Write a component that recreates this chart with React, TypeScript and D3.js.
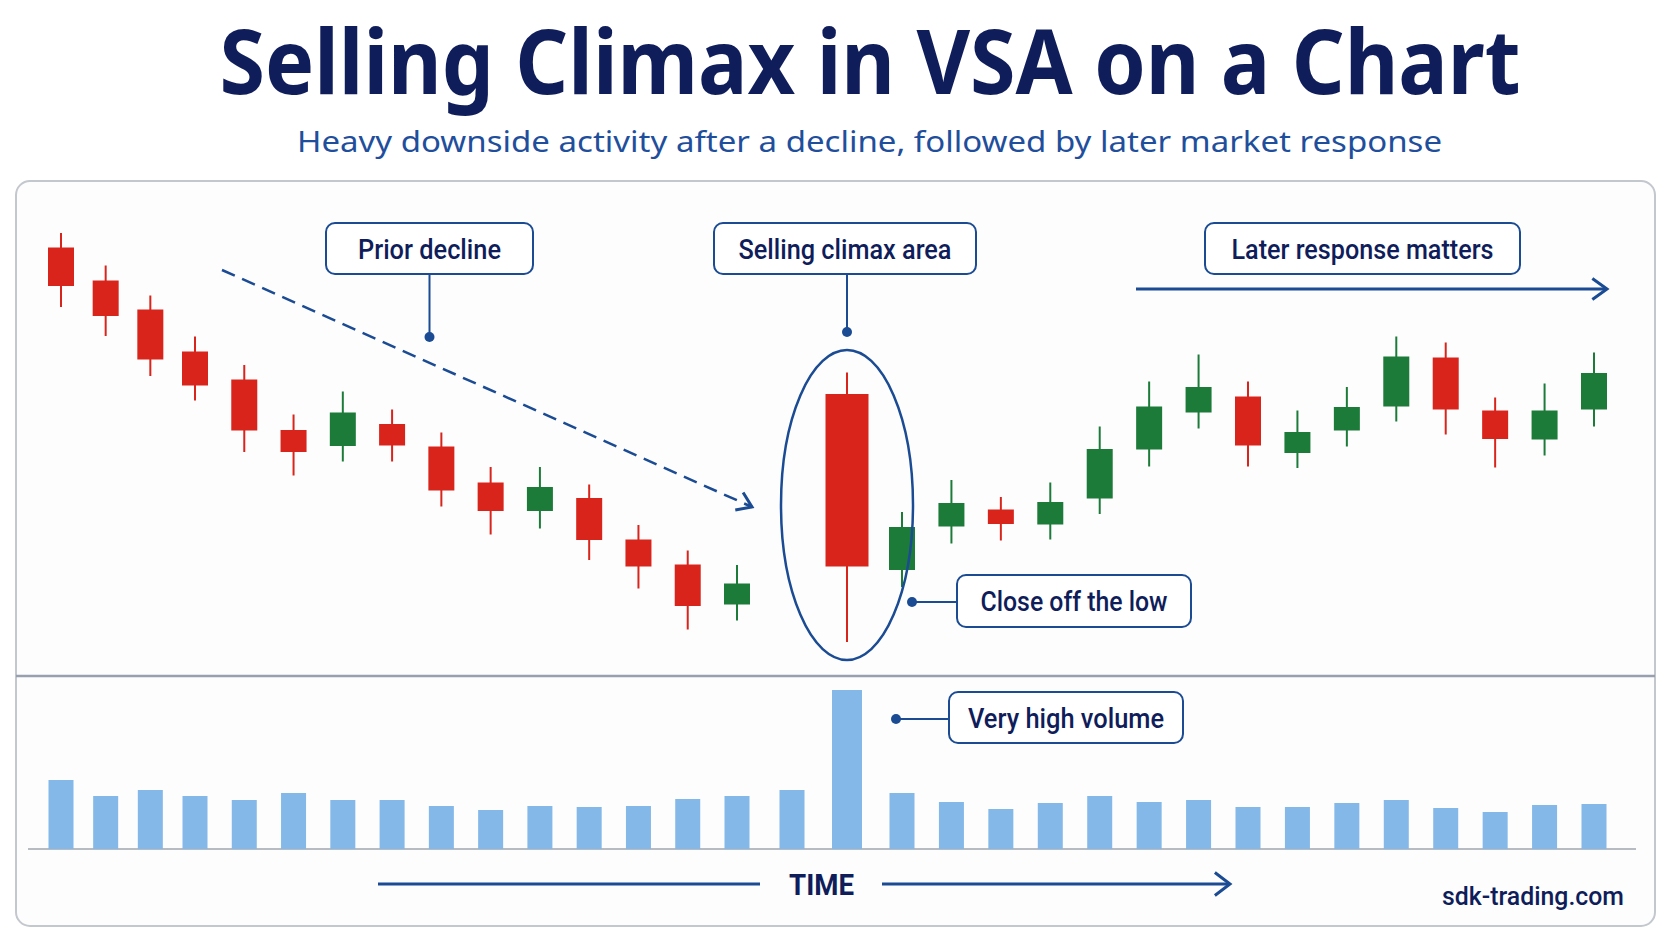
import * as d3 from 'd3';

// --- chart data (price units are arbitrary) ---
const slots = d3.range(32);
const climaxIdx = 16;

const opens = [90.5, 83.9, 78.1, 69.7, 64.1, 54.0, 50.8, 55.2, 50.7, 43.5, 37.8, 40.4, 32.1, 27.1, 19.1, null, 61.2, 26.0, 34.7, 38.1, 35.1, 40.3, 50.1, 57.5, 60.7, 49.4, 53.9, 58.7, 68.5, 57.9, 52.1, 58.1];
const highs = [93.4, 86.9, 80.9, 72.7, 67.0, 57.1, 61.7, 58.1, 53.5, 46.6, 46.6, 43.1, 35.0, 29.9, 27.0, null, 65.5, 37.6, 44.0, 40.6, 43.5, 54.7, 63.7, 69.1, 63.7, 57.9, 62.6, 72.7, 71.5, 60.5, 63.3, 69.5];
const lows = [78.6, 72.8, 64.8, 59.9, 49.6, 44.9, 47.7, 47.7, 38.7, 33.1, 34.3, 28.0, 22.3, 14.1, 15.9, null, 11.6, 22.6, 31.3, 31.9, 32.1, 37.2, 46.7, 54.3, 46.7, 46.4, 50.7, 55.7, 53.1, 46.5, 48.9, 54.7];
const closes = [82.8, 76.8, 68.1, 62.9, 53.9, 49.6, 57.5, 50.9, 41.9, 37.8, 42.6, 32.0, 26.7, 18.8, 23.3, null, 26.7, 34.6, 39.4, 35.2, 39.6, 50.2, 58.7, 62.6, 50.9, 53.6, 58.6, 68.7, 58.1, 52.2, 57.9, 65.4];
const volumes = [69, 53, 59, 53, 49, 56, 49, 49, 43, 39, 43, 42, 43, 50, 53, 59, 159, 56, 47, 40, 46, 53, 47, 49, 42, 42, 46, 49, 41, 37, 44, 45];

const title = 'Selling Climax in VSA on a Chart';
const subtitle = 'Heavy downside activity after a decline, followed by later market response';
const labels = ['Prior decline', 'Selling climax area', 'Later response matters', 'Close off the low', 'Very high volume'];

const W = 1672;
const H = 941;
const NAVY = '#0f1d5a';
const LINE = '#1b4b93';
const RED = '#d9241c';
const GREEN = '#1c7b39';
const VOL = '#84b8e8';

// slot -> x (spacing is a bit tighter early on)
const x = d3.scaleLinear().domain([0, 3, 14, 17, 31]).range([61, 195, 737, 902, 1594]);
const y = d3.scaleLinear().domain([0, 100]).range([700, 200]);
const yVol = d3.scaleLinear().domain([0, 160]).range([849, 689]);

function chevron(tx: number, ty: number, angle: number, len = 17, spread = 0.6) {
  const a1 = angle + Math.PI - spread;
  const a2 = angle + Math.PI + spread;
  const p = d3.path();
  p.moveTo(tx + len * Math.cos(a1), ty + len * Math.sin(a1));
  p.lineTo(tx, ty);
  p.lineTo(tx + len * Math.cos(a2), ty + len * Math.sin(a2));
  return p.toString();
}

function Callout({ bx, by, bw, bh, text, tw }: { bx: number; by: number; bw: number; bh: number; text: string; tw: number }) {
  return (
    <g>
      <rect x={bx} y={by} width={bw} height={bh} rx={9} fill="#fff" stroke={LINE} strokeWidth={2} />
      <text
        x={bx + bw / 2}
        y={by + bh / 2 + 10}
        textAnchor="middle"
        fontFamily="Roboto, 'Noto Sans', sans-serif"
        fontWeight={500}
        fontSize={28}
        fill={NAVY}
        textLength={tw}
        lengthAdjust="spacingAndGlyphs"
      >
        {text}
      </text>
    </g>
  );
}

export default function App() {
  const climaxX = x(climaxIdx);
  const dashAngle = Math.atan2(507 - 270, 752 - 222);

  return (
    <svg width={W} height={H} style={{ position: 'absolute', left: 0, top: 0, background: '#fff' }}>
      {/* Title */}
      <text x={870} y={94} textAnchor="middle" fontFamily="'Noto Sans', 'Open Sans', sans-serif" fontWeight={700}
        fontSize={89} fill={NAVY} textLength={1301} lengthAdjust="spacingAndGlyphs">{title}</text>
      <text x={869.5} y={152} textAnchor="middle" fontFamily="'Noto Sans', 'Open Sans', sans-serif" fontWeight={400}
        fontSize={29} fill="#1f4f9c" textLength={1145} lengthAdjust="spacingAndGlyphs">{subtitle}</text>

      {/* Panel */}
      <rect x={16} y={181} width={1639} height={745} rx={14} fill="#fdfdfe" stroke="#c3c7ce" strokeWidth={2} />
      <line x1={16} x2={1655} y1={676} y2={676} stroke="#98a0ae" strokeWidth={2.5} />

      {/* Candles */}
      {slots.map(i => {
        const o = opens[i], c = closes[i], h = highs[i], l = lows[i];
        if (o == null || c == null || h == null || l == null) return null;
        const col = c >= o ? GREEN : RED;
        const bw = i === climaxIdx ? 43 : 26;
        const cx = x(i);
        return (
          <g key={i}>
            <line x1={cx} x2={cx} y1={y(h)} y2={y(l)} stroke={col} strokeWidth={2} />
            <rect x={cx - bw / 2} y={y(Math.max(o, c))} width={bw} height={Math.abs(y(o) - y(c))} fill={col} />
          </g>
        );
      })}

      {/* Volume */}
      <line x1={28} x2={1636} y1={849} y2={849} stroke="#b7bbc2" strokeWidth={2} />
      {slots.map(i => {
        const bw = i === climaxIdx ? 30 : 25;
        return (
          <rect key={i} x={x(i) - bw / 2} y={yVol(volumes[i])} width={bw} height={yVol(0) - yVol(volumes[i])} fill={VOL} />
        );
      })}

      {/* Dashed decline arrow */}
      <line x1={222} y1={270} x2={752} y2={507} stroke={LINE} strokeWidth={2.5} strokeDasharray="14 8" />
      <path d={chevron(752, 507, dashAngle)} fill="none" stroke={LINE} strokeWidth={3} />

      {/* Climax ellipse */}
      <ellipse cx={climaxX} cy={505} rx={66} ry={155} fill="none" stroke={LINE} strokeWidth={2.5} />

      {/* Later response arrow */}
      <line x1={1136} x2={1606} y1={289} y2={289} stroke={LINE} strokeWidth={3} />
      <path d={chevron(1607, 289, 0, 18, 0.62)} fill="none" stroke={LINE} strokeWidth={3} />

      {/* Callouts */}
      <line x1={429.5} x2={429.5} y1={274} y2={337} stroke={LINE} strokeWidth={2} />
      <circle cx={429.5} cy={337} r={5} fill={LINE} />
      <Callout bx={326} by={223} bw={207} bh={51} text={labels[0]} tw={143} />

      <line x1={climaxX} x2={climaxX} y1={274} y2={332} stroke={LINE} strokeWidth={2} />
      <circle cx={climaxX} cy={332} r={5} fill={LINE} />
      <Callout bx={714} by={223} bw={262} bh={51} text={labels[1]} tw={213} />

      <Callout bx={1205} by={223} bw={315} bh={51} text={labels[2]} tw={262} />

      <line x1={912} x2={957} y1={602} y2={602} stroke={LINE} strokeWidth={2} />
      <circle cx={912} cy={602} r={5} fill={LINE} />
      <Callout bx={957} by={575} bw={234} bh={52} text={labels[3]} tw={187} />

      <line x1={896} x2={949} y1={719} y2={719} stroke={LINE} strokeWidth={2} />
      <circle cx={896} cy={719} r={5} fill={LINE} />
      <Callout bx={949} by={692} bw={234} bh={51} text={labels[4]} tw={196} />

      {/* Time axis */}
      <line x1={378} x2={760} y1={884} y2={884} stroke={LINE} strokeWidth={3} />
      <line x1={882} x2={1229} y1={884} y2={884} stroke={LINE} strokeWidth={3} />
      <path d={chevron(1230, 884, 0, 19, 0.65)} fill="none" stroke={LINE} strokeWidth={3} />
      <text x={821.5} y={895} textAnchor="middle" fontFamily="Roboto, sans-serif" fontWeight={700} fontSize={30}
        fill={NAVY} textLength={65} lengthAdjust="spacingAndGlyphs">TIME</text>

      <text x={1442} y={905} fontFamily="Roboto, sans-serif" fontWeight={500} fontSize={25} fill={NAVY}
        textLength={182} lengthAdjust="spacingAndGlyphs">sdk-trading.com</text>
    </svg>
  );
}
